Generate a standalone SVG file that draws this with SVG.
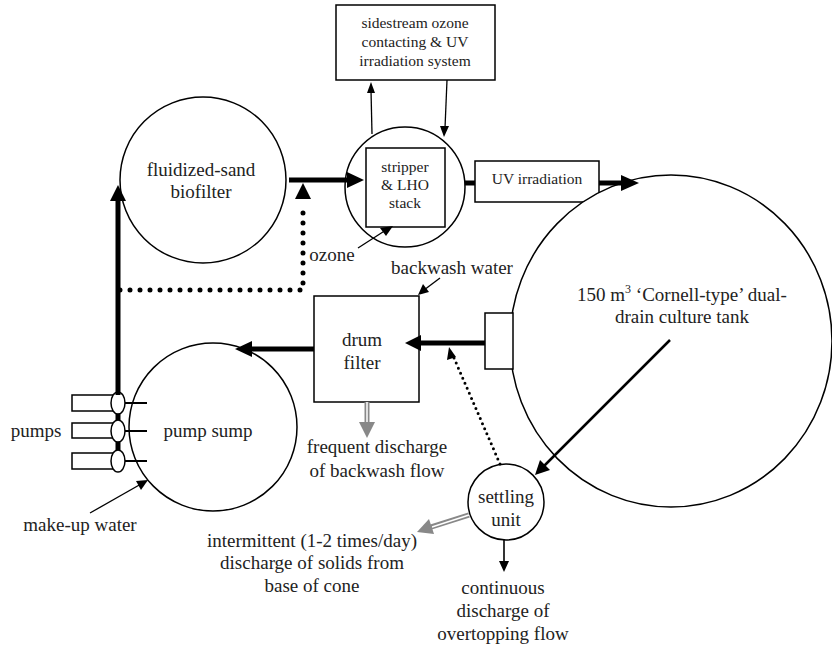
<svg xmlns="http://www.w3.org/2000/svg" width="832" height="649" viewBox="0 0 832 649">
<defs>
<style>
text{font-family:"Liberation Serif","DejaVu Serif","Noto Serif",serif}
.shape{fill:#fff;stroke:#000;stroke-width:1.5}
.t{font-size:19px;fill:#222;text-anchor:middle}
.s{font-size:15.5px}
.thick{stroke:#000;stroke-width:5;fill:none}
.thin{stroke:#000;stroke-width:1.3;fill:none}
.pl{stroke:#000;stroke-width:2;fill:none}
.dot{stroke:#000;stroke-width:5;stroke-linecap:round;stroke-dasharray:0 10;fill:none}
.dot2{stroke:#000;stroke-width:3;stroke-linecap:round;stroke-dasharray:0 5.5;fill:none}
.head{fill:#000}
.ghead{fill:#888}
</style>
</defs>
<rect width="832" height="649" fill="#fff"/>

<g id="sidestream">
<rect class="shape" x="336" y="5" width="159" height="75"/>
<text class="t s" x="415" y="28">sidestream ozone</text>
<text class="t s" x="415" y="47">contacting &amp; UV</text>
<text class="t s" x="415" y="66">irradiation system</text>
</g>

<g id="biofilter">
<circle class="shape" cx="203" cy="180" r="83"/>
<text class="t" x="201" y="176">fluidized-sand</text>
<text class="t" x="201" y="198">biofilter</text>
</g>

<g id="stripper">
<circle class="shape" cx="405" cy="187" r="60"/>
<rect class="shape" x="366" y="148" width="79" height="79"/>
<text class="t s" x="405" y="172">stripper</text>
<text class="t s" x="405" y="190">&amp; LHO</text>
<text class="t s" x="405" y="208">stack</text>
</g>

<g id="uv">
<rect class="shape" x="475" y="161" width="124" height="41"/>
<text class="t s" x="537" y="184">UV irradiation</text>
</g>

<g id="tank">
<ellipse class="shape" cx="671" cy="341" rx="161" ry="166"/>
<rect class="shape" x="485" y="313" width="28" height="56"/>
<text class="t" x="682" y="301">150 m<tspan font-size="12" dy="-8">3</tspan><tspan dy="8"> ‘Cornell-type’ dual-</tspan></text>
<text class="t" x="682" y="323">drain culture tank</text>
</g>

<g id="drum">
<rect class="shape" x="314" y="296" width="105" height="106"/>
<text class="t" x="362" y="346">drum</text>
<text class="t" x="362" y="369">filter</text>
</g>

<g id="sump">
<circle class="shape" cx="213" cy="427" r="84"/>
<text class="t" x="208" y="437">pump sump</text>
</g>

<g id="pumps">
<line class="thick" x1="118" y1="395" x2="118" y2="465"/>
<rect class="shape" x="72" y="395" width="41" height="16"/>
<rect class="shape" x="72" y="423" width="41" height="15"/>
<rect class="shape" x="72" y="453" width="41" height="16"/>
<line class="pl" x1="122" y1="403" x2="147" y2="403"/>
<line class="pl" x1="122" y1="431" x2="147" y2="431"/>
<line class="pl" x1="122" y1="461" x2="147" y2="461"/>
<ellipse class="shape" cx="118" cy="403" rx="7" ry="11"/>
<ellipse class="shape" cx="118" cy="431" rx="7" ry="11"/>
<ellipse class="shape" cx="118" cy="461" rx="7" ry="11"/>
<text class="t" x="36" y="437">pumps</text>
</g>

<g id="settling">
<circle class="shape" cx="506" cy="502" r="38"/>
<text class="t" x="506" y="503">settling</text>
<text class="t" x="506" y="526">unit</text>
</g>

<g id="labels">
<text class="t" x="332" y="261">ozone</text>
<text class="t" x="452" y="274">backwash water</text>
<text class="t" x="377" y="453">frequent discharge</text>
<text class="t" x="377" y="477">of backwash flow</text>
<text class="t" x="312" y="547">intermittent (1-2 times/day)</text>
<text class="t" x="312" y="569">discharge of solids from</text>
<text class="t" x="312" y="592">base of cone</text>
<text class="t" x="503" y="594">continuous</text>
<text class="t" x="503" y="617">discharge of</text>
<text class="t" x="503" y="640">overtopping flow</text>
<text class="t" x="80" y="531">make-up water</text>
</g>

<g id="connectors">
<line class="thick" x1="289" y1="180" x2="349" y2="180"/>
<polygon class="head" points="364,180 347,172 347,188"/>
<line class="thick" x1="118" y1="395" x2="118" y2="198"/>
<polygon class="head" points="118,185 110,201 126,201"/>
<path class="dot" d="M120,290 H303 V205"/>
<polygon class="head" points="303,183 295,199 311,199"/>
<line class="thin" x1="358" y1="248" x2="386" y2="230"/>
<polygon class="head" points="393,226 380,228 386,236"/>
<line class="thin" x1="372" y1="134" x2="371" y2="90"/>
<polygon class="head" points="371,82 367,93 375,93"/>
<line class="thin" x1="447" y1="80" x2="445" y2="128"/>
<polygon class="head" points="444,137 440,126 449,126"/>
<line class="thick" x1="465" y1="183" x2="475" y2="183"/>
<line class="thick" x1="599" y1="183" x2="624" y2="183"/>
<polygon class="head" points="639,183 621,175 621,191"/>
<line class="thick" x1="485" y1="343" x2="418" y2="343"/>
<polygon class="head" points="405,343 421,335 421,351"/>
<line class="thick" x1="314" y1="349" x2="250" y2="349"/>
<polygon class="head" points="235,349 252,341 252,357"/>
<line class="thin" x1="440" y1="278" x2="424" y2="290"/>
<polygon class="head" points="418,295 423,284 429,292"/>
<line class="thin" x1="90" y1="513" x2="141" y2="484"/>
<polygon class="head" points="148,480 136,481 141,490"/>
<line stroke="#000" stroke-width="2.5" x1="670" y1="340" x2="544" y2="466"/>
<polygon class="head" points="535,475 540,460 550,470"/>
<path class="dot2" d="M500,464 L454,358"/>
<polygon class="head" points="449,347 447,360 456,357"/>
<line stroke="#000" stroke-width="1.6" x1="504" y1="540" x2="504" y2="562"/>
<polygon class="head" points="504,572 499,561 509,561"/>
<line stroke="#888" stroke-width="5" x1="367" y1="402" x2="367" y2="425"/>
<line stroke="#fff" stroke-width="1.5" x1="367" y1="402" x2="367" y2="424"/>
<polygon class="ghead" points="367,438 359,422 375,422"/>
<line stroke="#888" stroke-width="5" x1="469" y1="515" x2="431" y2="527"/>
<line stroke="#fff" stroke-width="1.5" x1="469" y1="515" x2="432" y2="527"/>
<polygon class="ghead" points="417,532 429,519 434,534"/>
</g>
</svg>
